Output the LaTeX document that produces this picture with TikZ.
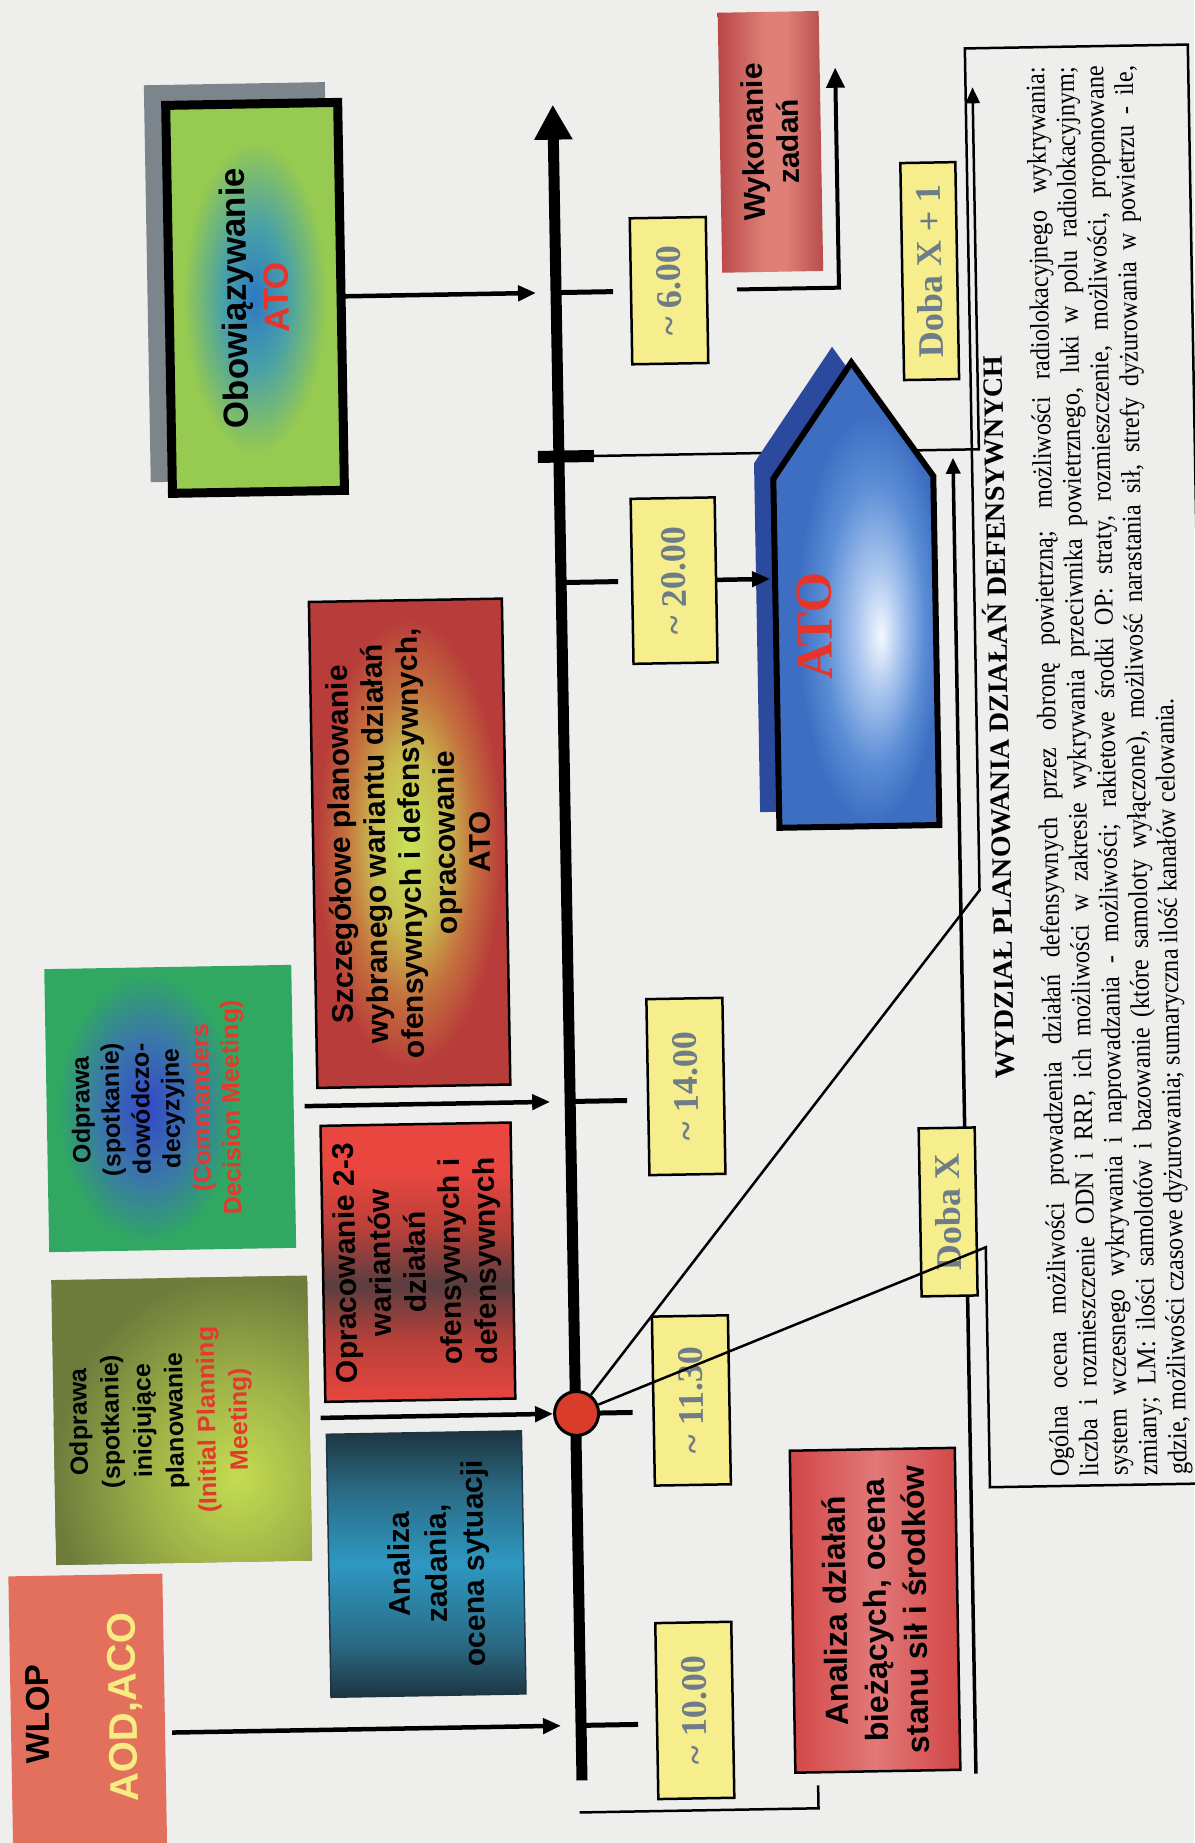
\documentclass[tikz,border=0pt]{standalone}
\usepackage{fontspec}
\setmainfont{Liberation Serif}
\newfontfamily\sansf{Liberation Sans}
\newfontfamily\parserif[FakeStretch=0.9]{Liberation Serif}
\usetikzlibrary{arrows.meta}

\definecolor{pagebg}{HTML}{EEEEEC}
\definecolor{oboGray}{HTML}{7C848C}
\definecolor{oboC}{HTML}{2E78C4}
\definecolor{oboM}{HTML}{48A0A8}
\definecolor{oboO}{HTML}{96CA50}
\definecolor{wykL}{HTML}{B84646}
\definecolor{wykM}{HTML}{DE8078}
\definecolor{wykR}{HTML}{B84C4C}
\definecolor{ylw}{HTML}{F6EE8C}
\definecolor{ytxt}{HTML}{6E7C8A}
\definecolor{atored}{HTML}{E5352B}
\definecolor{pentSh}{HTML}{2B4A9E}
\definecolor{pentC}{HTML}{F4F8FF}
\definecolor{pentL}{HTML}{B0CAF0}
\definecolor{pentM}{HTML}{5C8ED6}
\definecolor{pentO}{HTML}{3E6EC2}
\definecolor{szC}{HTML}{C8E45A}
\definecolor{szY}{HTML}{C8BC4E}
\definecolor{szM}{HTML}{C4703E}
\definecolor{szO}{HTML}{B83C3A}
\definecolor{cmdC}{HTML}{3448C8}
\definecolor{cmdM}{HTML}{3A78A8}
\definecolor{cmdO}{HTML}{30A862}
\definecolor{initC}{HTML}{C4DC50}
\definecolor{initM}{HTML}{A0B448}
\definecolor{initO}{HTML}{6E7C3C}
\definecolor{oprR}{HTML}{E8463E}
\definecolor{oprR2}{HTML}{B8403A}
\definecolor{oprD}{HTML}{5A3E40}
\definecolor{anzD}{HTML}{1E3440}
\definecolor{anzM}{HTML}{2A6A84}
\definecolor{anzB}{HTML}{2E98C2}
\definecolor{adR}{HTML}{D24646}
\definecolor{adL}{HTML}{E27878}
\definecolor{wlopF}{HTML}{E2705C}
\definecolor{acoY}{HTML}{F6EC82}
\definecolor{dotred}{HTML}{D93C2A}
\definecolor{redtxt}{HTML}{E23A2E}

\pgfdeclarelayer{bg}
\pgfsetlayers{bg,main}

% TikZ stretches the central 50bp of a shading over the path's bounding box
\pgfdeclareradialshading{oboSh}{\pgfpoint{0bp}{0bp}}{color(0bp)=(oboC); color(9bp)=(oboM); color(20bp)=(oboO); color(50bp)=(oboO)}
\pgfdeclareradialshading{cmdSh}{\pgfpoint{0bp}{0bp}}{color(0bp)=(cmdC); color(13bp)=(cmdM); color(24bp)=(cmdO); color(50bp)=(cmdO)}
\pgfdeclareradialshading{initSh}{\pgfpoint{0bp}{0bp}}{color(0bp)=(initC); color(11bp)=(initM); color(24bp)=(initO); color(50bp)=(initO)}
\pgfdeclareradialshading{szSh}{\pgfpoint{0bp}{0bp}}{color(0bp)=(szC); color(9bp)=(szY); color(16bp)=(szM); color(23bp)=(szO); color(50bp)=(szO)}
\pgfdeclareradialshading{pentShd}{\pgfpoint{7.5bp}{-4.4bp}}{color(0bp)=(pentC); color(6bp)=(pentL); color(15bp)=(pentM); color(22bp)=(pentO); color(50bp)=(pentO)}
\pgfdeclareverticalshading{oprSh}{100bp}{color(0bp)=(oprR); color(25bp)=(oprR); color(36bp)=(oprR2); color(46bp)=(oprD); color(56bp)=(oprR2); color(66bp)=(oprR); color(100bp)=(oprR)}
\pgfdeclareverticalshading{anzSh}{100bp}{color(0bp)=(anzD); color(25bp)=(anzD); color(35bp)=(anzM); color(50bp)=(anzB); color(64bp)=(anzM); color(75bp)=(anzD); color(100bp)=(anzD)}
\pgfdeclarehorizontalshading{wykSh}{100bp}{color(0bp)=(wykL); color(25bp)=(wykL); color(47.5bp)=(wykM); color(57.5bp)=(wykM); color(75bp)=(wykR); color(100bp)=(wykR)}
\pgfdeclarehorizontalshading{adSh}{100bp}{color(0bp)=(adR); color(25bp)=(adR); color(50bp)=(adL); color(75bp)=(adR); color(100bp)=(adR)}

\tikzset{
  vt/.style={rotate=90, inner sep=0pt, outer sep=0pt},
  pbox/.style 2 args={vt, minimum width=#2, minimum height=#1},
  ybox/.style={draw=black, line width=2.5pt, fill=ylw, text=ytxt,
    font=\bfseries\fontsize{36}{40}\selectfont},
  boxtxt/.style 2 args={font=\sansf\bfseries\fontsize{#1}{#2}\selectfont, align=center},
  frame/.style={draw=black, line width=2.5pt},
  arr/.style={line width=4.5pt, -{Triangle[length=18pt,width=15pt]}},
  tickln/.style={line width=5pt},
  thinln/.style={line width=2.5pt, line join=miter},
  thinarr/.style={line width=2.5pt, -{Triangle[length=16pt,width=14pt]}},
}

\begin{document}
\begin{tikzpicture}[x=1pt,y=-1pt]
\begin{pgfonlayer}{bg}
  \fill[pagebg] (0,0) rectangle (1194,1843);
\end{pgfonlayer}
\useasboundingbox (0,0) rectangle (1194,1843);

\begin{scope}[rotate around={1:(597,921)}, transform shape]

% ---------- time axis ----------
\coordinate (axB) at (567,1780);
\coordinate (axT) at (567,104);
\draw[line width=11pt, -{Triangle[length=35pt,width=36pt]}] (axB) -- (axT);

% ticks on the axis
\coordinate (t6) at (567,292);
\coordinate (t20) at (567,582);
\coordinate (t14) at (567,1101);
\coordinate (t10) at (567,1725);
\draw[tickln] (t6) -- ++(57,0);
\draw[tickln] (t20) -- ++(57,0);
\draw[tickln] (t14) -- ++(57,0);
\draw[tickln] (t10) -- ++(57,0);

% day boundary and its line to the defence planning box
\coordinate (tkA) at (546,456);
\coordinate (tkB) at (602,456);
\coordinate (tkC) at (987,456);
\coordinate (tkD) at (987,94);
\draw[thinarr] (tkB) -- (tkC) -- (tkD);
\draw[line width=12pt] (tkA) -- (tkB);

% second time line (Doba)
\coordinate (dbB) at (961,1780);
\coordinate (dbT) at (961,464);
\draw[line width=3.5pt, -{Triangle[length=16pt,width=14pt]}] (dbB) -- (dbT);

% bottom bracket
\coordinate (brA) at (564,1812);
\coordinate (brB) at (803,1812);
\coordinate (brC) at (803,1789);
\draw[thinln] (brA) -- (brB) -- (brC);

% ---------- ATO pentagon ----------
\fill[pentSh] (762,815) -- (922,815) -- (922,466) -- (842,351) -- (762,466) -- cycle;
\shadedraw[shading=pentShd, draw=black, line width=6pt, line join=miter]
  (781,831) -- (941,831) -- (941,482) -- (861,367) -- (781,482) -- cycle;
\node[vt, font=\bfseries\fontsize{52}{56}\selectfont, text=atored] (atoT) at (820,630) {ATO};
\coordinate (pentL) at (776,582);

% ---------- left column ----------
\begin{pgfonlayer}{bg}
  \fill[oboGray] (158.5,77.5) rectangle (339.5,474.5);
\end{pgfonlayer}
\node[pbox={172}{388}, draw=black, line width=9pt, boxtxt={35}{42}] (obo) at (266,292)
  {Obowiązywanie\\\textcolor{atored}{ATO}};
\begin{pgfonlayer}{bg}
  \shade[shading=oboSh] (obo.south west) rectangle (obo.north east);
\end{pgfonlayer}

\node[pbox={101}{260}, boxtxt={30}{35}] (wyk) at (784,145) {Wykonanie\\zadań};
\begin{pgfonlayer}{bg}
  \shade[shading=wykSh] (wyk.south west) rectangle (wyk.north east);
\end{pgfonlayer}

\node[pbox={193}{486}, frame, boxtxt={30}{35}] (szcz) at (411,840)
  {Szczegółowe planowanie\\wybranego wariantu działań\\ofensywnych i defensywnych,\\opracowanie\\ATO};
\begin{pgfonlayer}{bg}
  \shade[shading=szSh] (szcz.south west) rectangle (szcz.north east);
\end{pgfonlayer}

\node[pbox={190}{276}, frame, boxtxt={30}{35}] (opr) at (412,1259)
  {Opracowanie 2-3\\wariantów\\działań\\ofensywnych i\\defensywnych};
\begin{pgfonlayer}{bg}
  \shade[shading=oprSh] (opr.south west) rectangle (opr.north east);
\end{pgfonlayer}

\node[pbox={195}{263}, draw=anzD, line width=1.5pt] (anz) at (415,1561) {};
\begin{pgfonlayer}{bg}
  \shade[shading=anzSh] (anz.south west) rectangle (anz.north east);
\end{pgfonlayer}
\node[vt, boxtxt={30}{37}] (anzT) at (428,1561) {Analiza\\zadania,\\ocena sytuacji};

\node[pbox={247}{283}] (cmd) at (167,1101) {};
\begin{pgfonlayer}{bg}
  \fill[cmdO] (cmd.south west) rectangle (cmd.north east);
  \shade[shading=cmdSh] (144,1100) ellipse (92 and 140);
\end{pgfonlayer}
\node[vt, boxtxt={25}{30}] (cmdT) at (155,1101)
  {Odprawa\\(spotkanie)\\dowódczo-\\decyzyjne\\\textcolor{redtxt}{(Commanders}\\\textcolor{redtxt}{Decision Meeting)}};

\node[pbox={256}{285}] (init) at (173,1413) {};
\begin{pgfonlayer}{bg}
  \fill[initO] (init.south west) rectangle (init.north east);
  \begin{scope}
    \clip (init.south west) rectangle (init.north east);
    \shade[shading=initSh] (228,1470) ellipse (190 and 210);
  \end{scope}
\end{pgfonlayer}
\node[vt, boxtxt={25}{32}] (initT) at (152,1413)
  {Odprawa\\(spotkanie)\\inicjujące\\planowanie\\\textcolor{redtxt}{(Initial Planning}\\\textcolor{redtxt}{Meeting)}};

\node[pbox={154}{318}, fill=wlopF] (wlop) at (74,1725) {};
\node[vt, font=\sansf\bfseries\fontsize{33}{36}\selectfont] (wlopT) at (24,1704) {WLOP};
\node[vt, font=\sansf\bfseries\fontsize{40}{44}\selectfont, text=acoY] (acoT) at (112,1699) {AOD,ACO};

\node[pbox={165}{322}, frame, boxtxt={32}{40}] (ad) at (863,1615)
  {Analiza działań\\bieżących, ocena\\stanu sił i środków};
\begin{pgfonlayer}{bg}
  \shade[shading=adSh] (ad.south west) rectangle (ad.north east);
\end{pgfonlayer}

% ---------- time labels ----------
\node[pbox={76}{146}, ybox] (n6) at (680,292) {\textasciitilde\ 6.00};
\node[pbox={84}{165}, ybox] (n20) at (680,582) {\textasciitilde\ 20.00};
\node[pbox={76}{176}, ybox] (n14) at (683,1088) {\textasciitilde\ 14.00};
\node[pbox={76}{169}, ybox] (n1130) at (683,1402) {\textasciitilde\ 11.30};
\node[pbox={76}{176}, ybox] (n10) at (681,1712) {\textasciitilde\ 10.00};
\node[pbox={56}{168}, ybox] (ndx) at (943,1218) {Doba X};
\node[pbox={55}{217}, ybox] (ndx1) at (941,277) {Doba X + 1};

% red milestone on the axis
\node[circle, draw=black, line width=3pt, fill=dotred, minimum size=44pt, inner sep=0pt] (dot) at (568,1413) {};
\draw[tickln] (dot.east) -- (624,1413);

% ---------- arrows into the axis ----------
\coordinate (a6) at (547,292);
\coordinate (a14) at (547,1101);
\coordinate (a10) at (547,1725);
\draw[arr] (obo.south) -- (a6);
\draw[arr, shorten <=11pt] (cmd.south) -- (a14);
\draw[arr, shorten <=11pt] (init.south) -- (dot.west);
\draw[arr, shorten <=7pt] (wlop.south) -- (a10);
\draw[arr] (n20.south) -- (pentL);

% from 6.00 to task execution
\coordinate (L6c) at (850,292);
\coordinate (L6t) at (850,72);
\draw[line width=4pt, -{Triangle[length=20pt,width=18pt]}, shorten <=30pt] (n6.south) -- (L6c) -- (L6t);

% ---------- defence planning call-out ----------
\coordinate (cU) at (980,897);
\coordinate (cTL) at (980,55);
\coordinate (cTR) at (1203,55);
\coordinate (cBR) at (1203,1494);
\coordinate (cBL) at (980,1494);
\coordinate (cL) at (980,1254);
\draw[thinln] (dot) -- (cU) -- (cTL) -- (cTR) -- (cBR) -- (cBL) -- (cL) -- (dot);

\node[vt, font=\bfseries\fontsize{28}{32}\selectfont] (hdr) at (1000,724)
  {WYDZIAŁ PLANOWANIA DZIAŁAŃ DEFENSYWNYCH};
\node[vt, anchor=north, text width=1410pt, align=justify,
      font=\parserif\fontsize{27}{29.5}\selectfont] (par) at (1040,780)
  {\hyphenpenalty=10000\tolerance=10000
   Ogólna ocena możliwości prowadzenia działań defensywnych przez obronę powietrzną; możliwości radiolokacyjnego wykrywania:\linebreak
   liczba i rozmieszczenie ODN i RRP, ich możliwości w zakresie wykrywania przeciwnika powietrznego, luki w polu radiolokacyjnym;\linebreak
   system wczesnego wykrywania i naprowadzania - możliwości; rakietowe środki OP: straty, rozmieszczenie, możliwości, proponowane\linebreak
   zmiany; LM: ilości samolotów i bazowanie (które samoloty wyłączone), możliwość narastania sił, strefy dyżurowania w powietrzu - ile,\linebreak
   gdzie, możliwości czasowe dyżurowania; sumaryczna ilość kanałów celowania.};

\end{scope}
\end{tikzpicture}
\end{document}
